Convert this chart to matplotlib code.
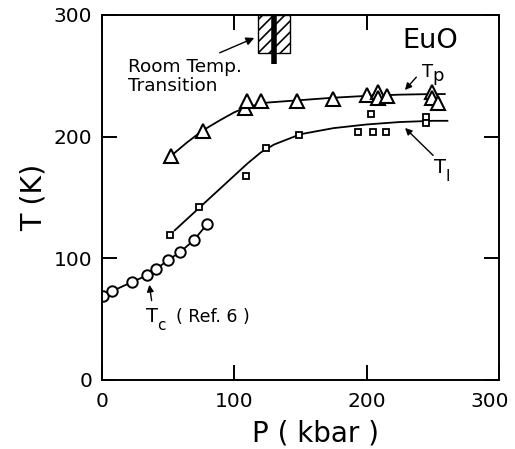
import matplotlib
matplotlib.use("Agg")
import matplotlib.pyplot as plt
import matplotlib.transforms as mtransforms
from matplotlib.patches import Rectangle

# ---- data ----
tc_p = [0.8, 7.6, 22.7, 34, 40.8, 50, 59, 69.5, 79.4]
tc_t = [69, 73, 80.5, 86, 91, 98.6, 105, 115, 128]

ti_p = [51.4, 73.3, 108.8, 124, 149, 193.5, 203, 205, 214.7, 245, 245]
ti_t = [119, 142, 167.6, 191, 201, 203.8, 218.6, 204, 204, 216, 211]

tp_p = [52, 76, 108, 109.6, 120, 147, 174.6, 200, 208.6, 208.6, 215, 249, 249, 254]
tp_t = [184, 205, 223.5, 229, 229, 229, 231, 234, 236.6, 231.7, 233, 237, 231.7, 228]

# hand-drawn guide curves
tp_curve_p = [52, 64, 76, 90, 100, 110, 125, 150, 175, 200, 225, 250, 259]
tp_curve_t = [184, 195, 205, 214, 220, 224.5, 228, 230, 232, 233.5, 234.5, 235, 235]
ti_curve_p = [55, 75, 95, 110, 120, 130, 150, 175, 200, 225, 250, 261]
ti_curve_t = [123, 143, 163, 178, 187, 193.5, 202, 207, 210, 212, 213, 213]

xticks = [0, 100, 200, 300]
yticks = [0, 100, 200, 300]

plt.rcParams['hatch.linewidth'] = 1.2

fig = plt.figure(figsize=(5.15, 4.49), dpi=100)
ax = fig.add_axes([0.198, 0.1537, 0.771, 0.813])
ax.set_xlim(0, 300)
ax.set_ylim(0, 300)

lw = 1.3
ax.plot(tc_p, tc_t, '-', color='black', lw=lw, marker='o', ms=7.5,
        mfc='white', mec='black', mew=1.4)
ax.plot(ti_curve_p, ti_curve_t, '-', color='black', lw=lw)
ax.plot(tp_curve_p, tp_curve_t, '-', color='black', lw=lw)
ax.plot(ti_p, ti_t, 's', ms=5, mfc='white', mec='black', mew=1.3, ls='none')
ax.plot(tp_p, tp_t, '^', ms=10, mfc='white', mec='black', mew=1.5, ls='none')

# room-temperature transition
ax.add_patch(Rectangle((118, 269), 24, 31, fill=False, hatch='///',
                       edgecolor='black', lw=1.0))
ax.plot([130, 130], [260, 300], color='black', lw=4, solid_capstyle='butt')

for s in ax.spines.values():
    s.set_linewidth(1.4)

ax.set_xticks(xticks)
ax.set_yticks(yticks)
ax.tick_params(direction='in', length=11, width=1.4, top=True, right=True,
               labelsize=14.5, colors='black')
ax.tick_params(axis='x', pad=9)
ax.tick_params(axis='y', pad=7)

# last x tick label sits a little to the left in the reference
lbl = ax.get_xticklabels()[-1]
lbl.set_transform(lbl.get_transform() +
                  mtransforms.ScaledTranslation(-9 / 100, 0, fig.dpi_scale_trans))

ax.set_xlabel('P ( kbar )', fontsize=20)
ax.xaxis.set_label_coords(0.537, -0.108)
ax.set_ylabel('T (K)', fontsize=20.5, labelpad=4)

# annotations
ax.text(20, 257, 'Room Temp.', fontsize=13.3, va='center', ha='left')
ax.text(20, 242, 'Transition', fontsize=13.3, va='center', ha='left')
ax.annotate('', xy=(117, 282), xytext=(87, 268),
            arrowprops=dict(arrowstyle='-|>', color='black', lw=1.0,
                            mutation_scale=12))

ax.text(227, 279, 'EuO', fontsize=19.5, va='center', ha='left')

ax.text(242, 253, 'T', fontsize=13, va='center', ha='left')
ax.text(250, 250, 'p', fontsize=13, va='center', ha='left')
ax.annotate('', xy=(227.5, 236.6), xytext=(238.9, 250.6),
            arrowprops=dict(arrowstyle='-|>', color='black', lw=1.0,
                            mutation_scale=10))

ax.text(251, 175, 'T', fontsize=14, va='center', ha='left')
ax.text(259.5, 167, 'I', fontsize=11, va='center', ha='left')
ax.annotate('', xy=(227.5, 208.7), xytext=(251.7, 183),
            arrowprops=dict(arrowstyle='-|>', color='black', lw=1.0,
                            mutation_scale=10))

ax.text(33, 52, 'T', fontsize=14, va='center', ha='left')
ax.text(41.5, 45, 'c', fontsize=11, va='center', ha='left')
ax.text(56, 52, '( Ref. 6 )', fontsize=12.5, va='center', ha='left')
ax.annotate('', xy=(35.5, 80.5), xytext=(37.8, 63),
            arrowprops=dict(arrowstyle='-|>', color='black', lw=1.0,
                            mutation_scale=10))

fig.savefig('out.png', dpi=100)
